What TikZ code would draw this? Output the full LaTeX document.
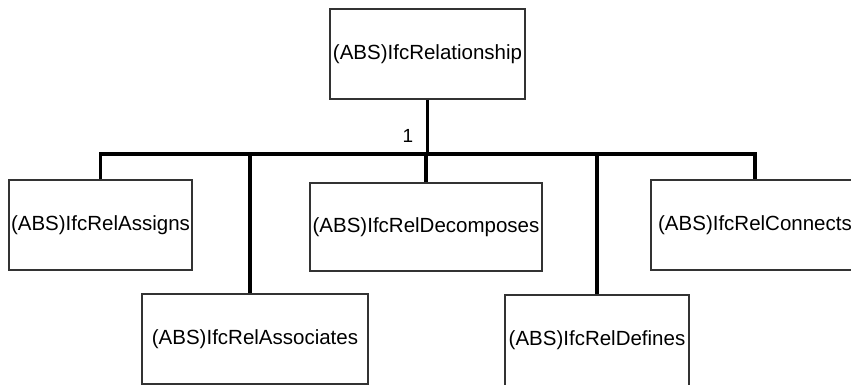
\documentclass[tikz,border=0pt]{standalone}
\usepackage{fontspec}
\setmainfont{Liberation Sans}
\begin{document}
\begin{tikzpicture}[x=1pt,y=-1pt,
  entity/.style={draw=black!80,line width=1.1pt,fill=white,inner sep=0pt,
    font=\fontsize{20.5}{24}\selectfont},
  conn/.style={line width=3.4pt,line cap=butt,line join=miter},
  card/.style={font=\fontsize{19}{22}\selectfont,inner sep=0pt}]
\useasboundingbox (0,0) rectangle (851,385);
\clip (0,0) rectangle (851,385);
% entity boxes
\node[entity,minimum width=195pt,minimum height=90pt] (rel) at (427.5,54) {(ABS)IfcRelationship};
\node[entity,minimum width=183pt,minimum height=90pt] (assigns) at (100.5,225) {(ABS)IfcRelAssigns};
\node[entity,minimum width=226pt,minimum height=90pt] (assoc) at (255,339) {(ABS)IfcRelAssociates};
\node[entity,minimum width=232pt,minimum height=88pt] (decomp) at (426,227) {(ABS)IfcRelDecomposes};
\node[entity,minimum width=184pt,minimum height=91pt] (defines) at (597,340.5) {(ABS)IfcRelDefines};
\node[entity,minimum width=208pt,minimum height=90pt] (connects) at (755,225) {(ABS)IfcRelConnects};
% common bus level
\coordinate (bus) at (0,154);
% connectors
\draw[conn] (rel.south) -- (rel.south |- bus);
\draw[conn] (assigns.north) |- (bus -| connects.north) -- (connects.north);
\draw[conn] ([xshift=-5pt]assoc.north) -- ([xshift=-5pt]assoc.north |- bus);
\draw[conn] (decomp.north) -- (decomp.north |- bus);
\draw[conn] (defines.north) -- (defines.north |- bus);
\node[card] (one) at (408,136) {1};
\end{tikzpicture}
\end{document}
